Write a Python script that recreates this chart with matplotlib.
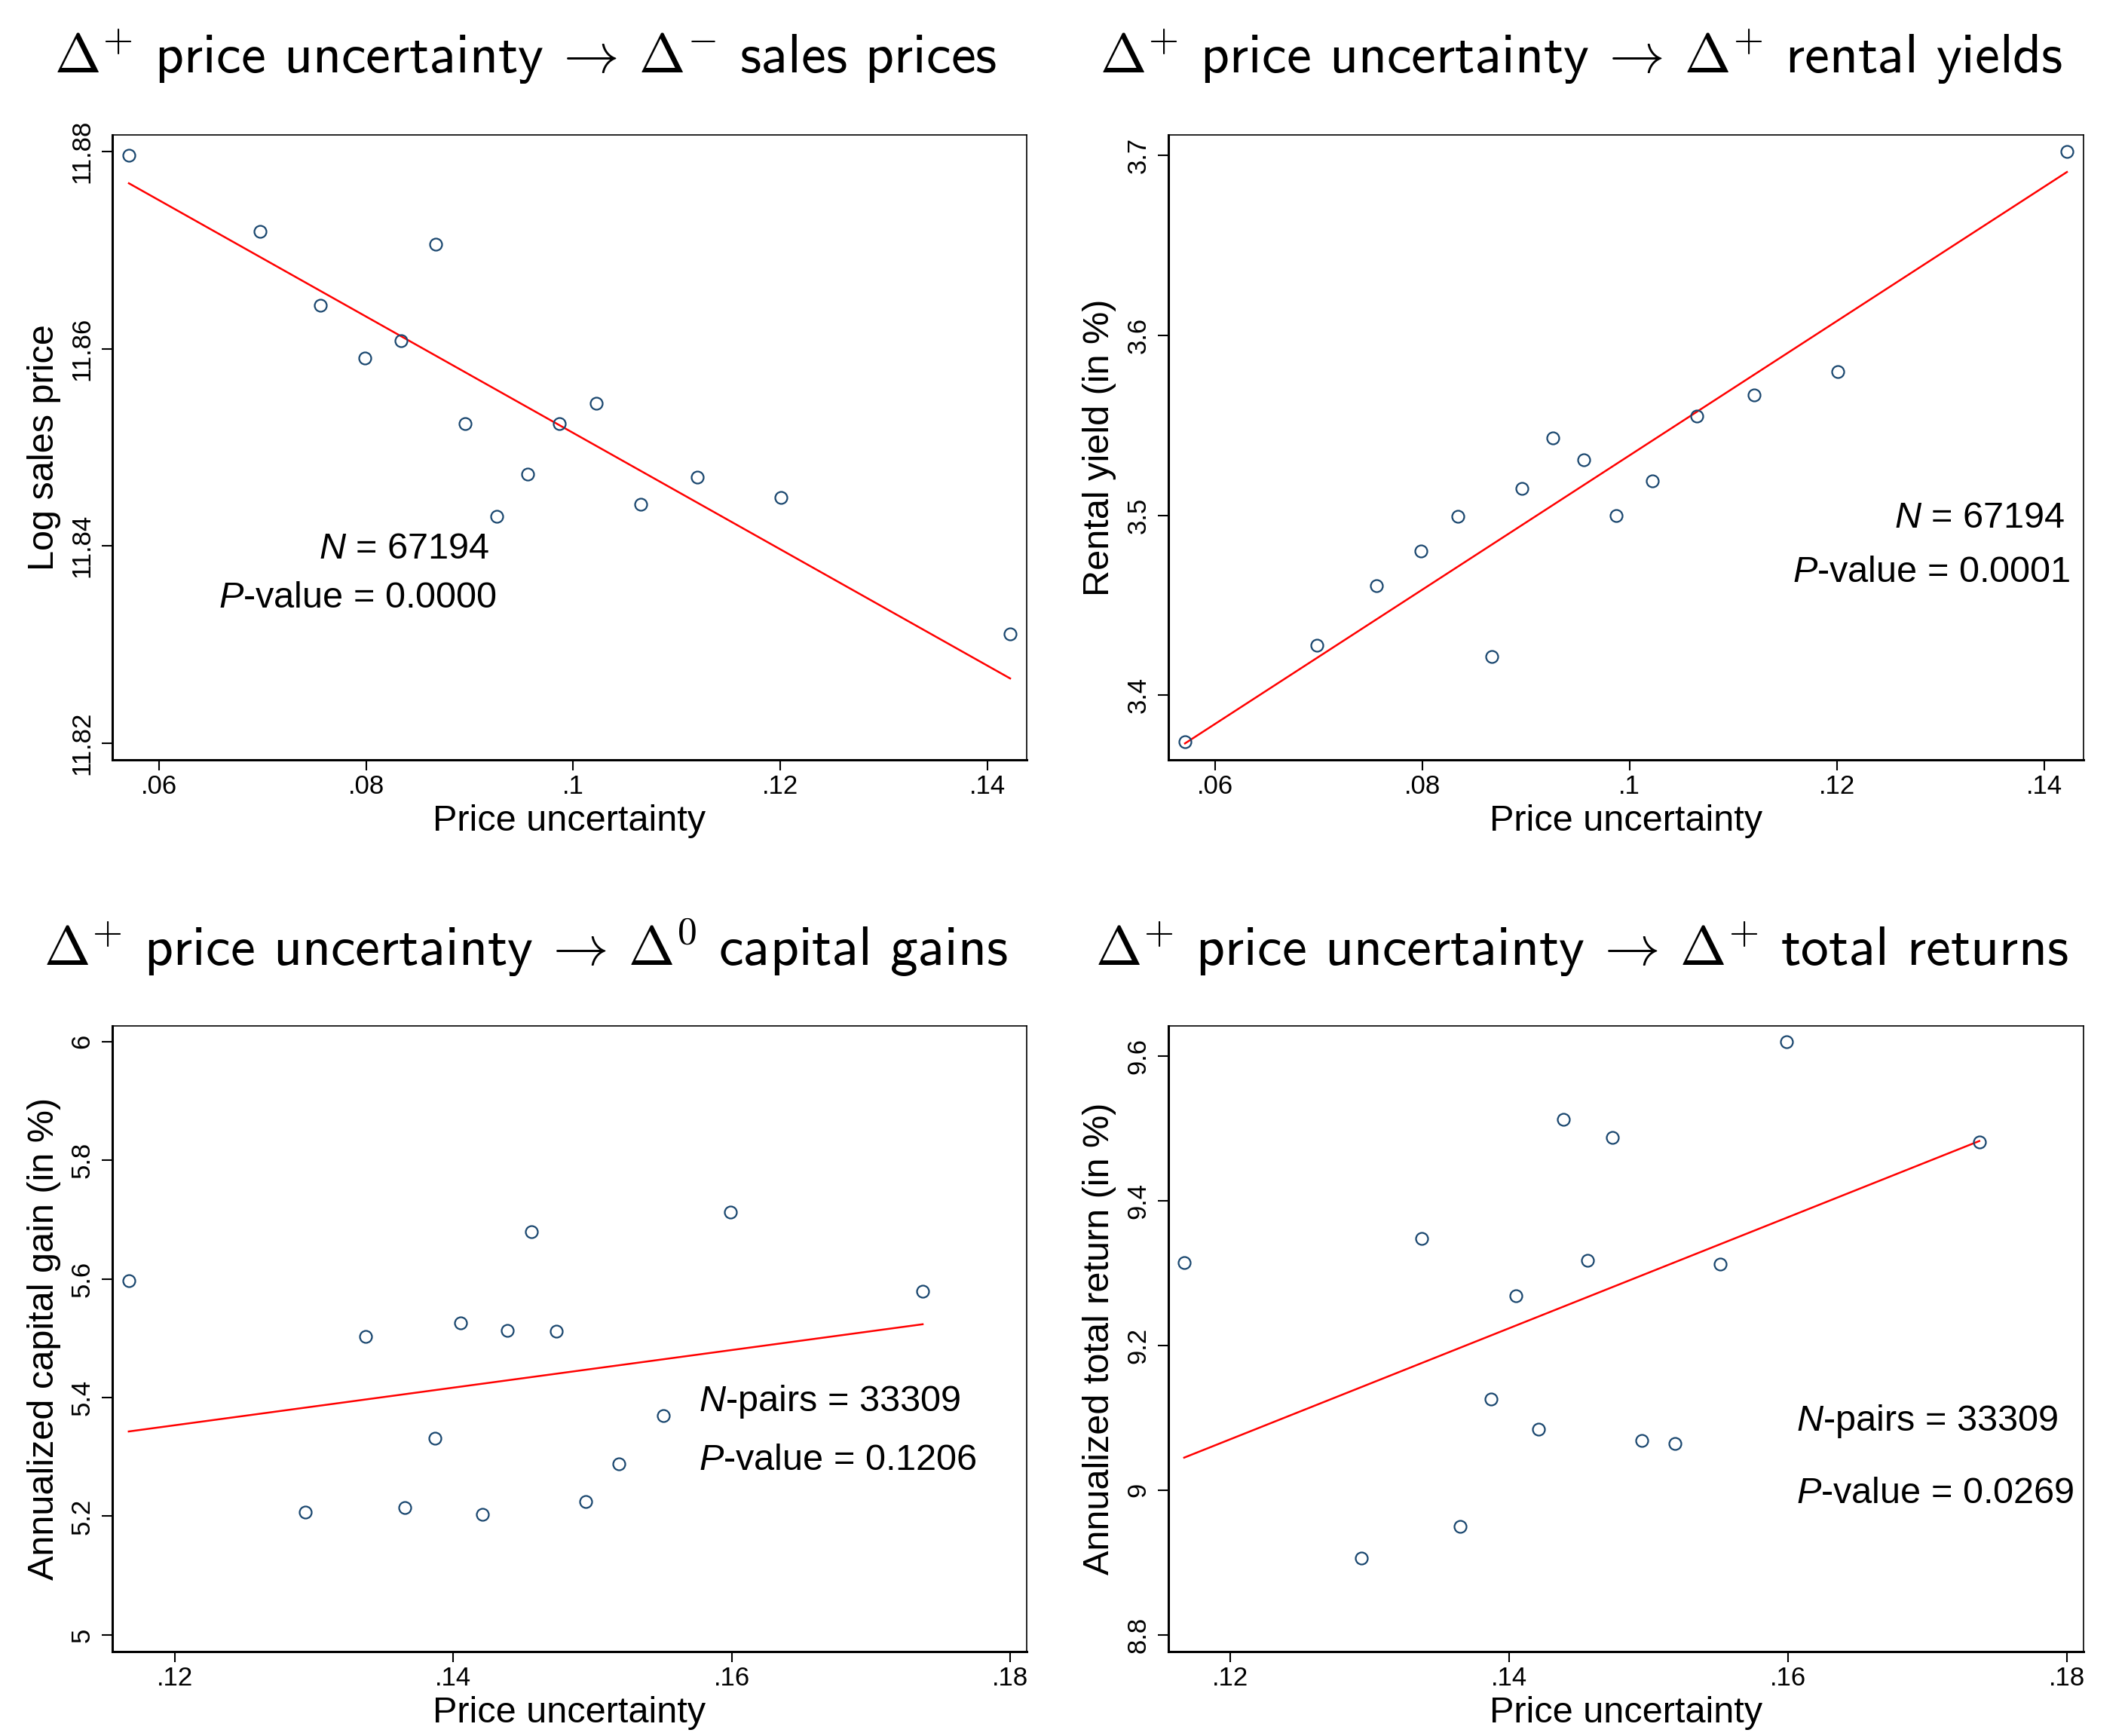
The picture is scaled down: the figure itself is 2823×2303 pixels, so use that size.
import matplotlib
matplotlib.use('Agg')
import matplotlib.pyplot as plt
import numpy as np

plt.rcParams['font.family'] = ['Liberation Sans', 'DejaVu Sans']
plt.rcParams['mathtext.fontset'] = 'custom'
plt.rcParams['mathtext.it'] = 'Liberation Sans:italic'
plt.rcParams['mathtext.rm'] = 'Liberation Sans'

# ---------------- data ----------------
x_top = [0.0571, 0.0698, 0.0756, 0.0799, 0.0834, 0.0867, 0.0896, 0.0926,
         0.0956, 0.0987, 0.1022, 0.1065, 0.1120, 0.1201, 0.1422]
log_price = [11.8796, 11.8719, 11.8644, 11.8591, 11.8608, 11.8706, 11.8524, 11.8430,
             11.8473, 11.8524, 11.8545, 11.8442, 11.8470, 11.8449, 11.8311]
rental_yield = [3.3743, 3.4276, 3.4607, 3.4803, 3.4993, 3.4215, 3.5149, 3.5431,
                3.5309, 3.5000, 3.5190, 3.5552, 3.5668, 3.5800, 3.7022]

x_bottom = [0.1167, 0.1294, 0.1337, 0.1365, 0.1387, 0.1405, 0.1421, 0.1439,
            0.1456, 0.1474, 0.1495, 0.1519, 0.1551, 0.1599, 0.1737]
capital_gain = [5.5972, 5.2065, 5.5028, 5.2140, 5.3318, 5.5262, 5.2037, 5.5131,
                5.6794, 5.5121, 5.2252, 5.2879, 5.3701, 5.7121, 5.5794]
total_return = [9.3142, 8.9065, 9.3479, 8.9502, 9.1264, 9.2690, 9.0843, 9.5126,
                9.3180, 9.4874, 9.0690, 9.0644, 9.3119, 9.6192, 9.4805]

# linear fits (intercept, slope)
fit_price = (11.9105, -0.5903)
fit_rental = (3.1602, 3.7307)
fit_capital = (4.9730, 3.1694)
fit_total = (8.1494, 7.674)

xticks_top = [0.06, 0.08, 0.10, 0.12, 0.14]
xticklabels_top = ['.06', '.08', '.1', '.12', '.14']
xticks_bottom = [0.12, 0.14, 0.16, 0.18]
xticklabels_bottom = ['.12', '.14', '.16', '.18']

yticks_price = [11.82, 11.84, 11.86, 11.88]
yticklabels_price = ['11.82', '11.84', '11.86', '11.88']
yticks_rental = [3.4, 3.5, 3.6, 3.7]
yticklabels_rental = ['3.4', '3.5', '3.6', '3.7']
yticks_capital = [5.0, 5.2, 5.4, 5.6, 5.8, 6.0]
yticklabels_capital = ['5', '5.2', '5.4', '5.6', '5.8', '6']
yticks_total = [8.8, 9.0, 9.2, 9.4, 9.6]
yticklabels_total = ['8.8', '9', '9.2', '9.4', '9.6']

titles = [
    r'$\Delta^{+}$ price uncertainty $\!\rightarrow\!$ $\Delta^{-}$ sales prices',
    r'$\Delta^{+}$ price uncertainty $\!\rightarrow\!$ $\Delta^{+}$ rental yields',
    r'$\Delta^{+}$ price uncertainty $\!\rightarrow\!$ $\Delta^{0}$ capital gains',
    r'$\Delta^{+}$ price uncertainty $\!\rightarrow\!$ $\Delta^{+}$ total returns',
]
ylabels = ['Log sales price', 'Rental yield (in %)',
           'Annualized capital gain (in %)', 'Annualized total return (in %)']
stat_lines = [
    [r'$N$ = 67194', r'$P$-value = 0.0000'],
    [r'$N$ = 67194', r'$P$-value = 0.0001'],
    [r'$N$-pairs = 33309', r'$P$-value = 0.1206'],
    [r'$N$-pairs = 33309', r'$P$-value = 0.0269'],
]

# ---------------- layout / style ----------------
W, H = 2823, 2303
fig = plt.figure(figsize=(W / 100, H / 100), dpi=100)

navy = '#1a476f'
red = '#ff0000'

panels = [
    dict(rect=[149 / W, 1 - 1008 / H, 1213 / W, 829 / H], x=x_top, y=log_price, fit=fit_price,
         xlim=(0.0555, 0.1438), ylim=(11.8183, 11.8817), xt=xticks_top, xtl=xticklabels_top,
         yt=yticks_price, ytl=yticklabels_price, title_x=697 / W, title_y=1 - 97 / H,
         stats=[(0.4122, 0.3221, 'right'), (0.4204, 0.2437, 'right')]),
    dict(rect=[1550 / W, 1 - 1008 / H, 1214 / W, 829 / H], x=x_top, y=rental_yield, fit=fit_rental,
         xlim=(0.0555, 0.1438), ylim=(3.3641, 3.7113), xt=xticks_top, xtl=xticklabels_top,
         yt=yticks_rental, ytl=yticklabels_rental, title_x=2098 / W, title_y=1 - 97 / H,
         stats=[(0.9794, 0.3715, 'right'), (0.9860, 0.2847, 'right')]),
    dict(rect=[149 / W, 1 - 2191 / H, 1213 / W, 830 / H], x=x_bottom, y=capital_gain, fit=fit_capital,
         xlim=(0.11552, 0.18117), ylim=(4.972, 6.0262), xt=xticks_bottom, xtl=xticklabels_bottom,
         yt=yticks_capital, ytl=yticklabels_capital, title_x=697 / W, title_y=1 - 1281 / H,
         stats=[(0.6414, 0.3843, 'left'), (0.6414, 0.2904, 'left')]),
    dict(rect=[1550 / W, 1 - 2191 / H, 1214 / W, 830 / H], x=x_bottom, y=total_return, fit=fit_total,
         xlim=(0.11557, 0.18117), ylim=(8.777, 9.6414), xt=xticks_bottom, xtl=xticklabels_bottom,
         yt=yticks_total, ytl=yticklabels_total, title_x=2098 / W, title_y=1 - 1281 / H,
         stats=[(0.6862, 0.3530, 'left'), (0.6862, 0.2373, 'left')]),
]

for i, p in enumerate(panels):
    ax = fig.add_axes(p['rect'])
    xs = np.array(p['x'])
    ys = np.array(p['y'])
    a, b = p['fit']
    xf = np.array([xs.min(), xs.max()])
    ax.plot(xf, a + b * xf, color=red, lw=1.8, zorder=2)
    ax.plot(xs, ys, linestyle='none', marker='o', ms=11.5, mfc='none', mec=navy, mew=1.6, zorder=3)

    ax.set_xlim(*p['xlim'])
    ax.set_ylim(*p['ylim'])
    ax.set_xticks(p['xt'])
    ax.set_xticklabels(p['xtl'])
    ax.set_yticks(p['yt'])
    ax.set_yticklabels(p['ytl'], rotation=90, va='center')

    ax.tick_params(axis='both', direction='out', length=10, width=1.5, labelsize=25, color='black')
    ax.tick_params(axis='x', pad=4)
    ax.tick_params(axis='y', pad=7)
    for side in ['left', 'bottom']:
        ax.spines[side].set_linewidth(2.2)
    for side in ['top', 'right']:
        ax.spines[side].set_linewidth(1.2)

    ax.set_xlabel('Price uncertainty', fontsize=35)
    ax.xaxis.set_label_coords(0.5, -0.1133)
    ax.xaxis.label.set_va('baseline')
    ax.set_ylabel(ylabels[i], fontsize=35)
    ax.yaxis.set_label_coords(-0.075, 0.5)
    ax.yaxis.label.set_va('center')

    for (sx, sy, ha), s in zip(p['stats'], stat_lines[i]):
        ax.text(sx, sy, s, transform=ax.transAxes, fontsize=35, ha=ha, va='baseline')

    fig.text(p['title_x'], p['title_y'], titles[i], fontsize=53, family='cmss10',
             math_fontfamily='cm', ha='center', va='baseline')

fig.savefig('out.png', dpi=100, facecolor='white')
